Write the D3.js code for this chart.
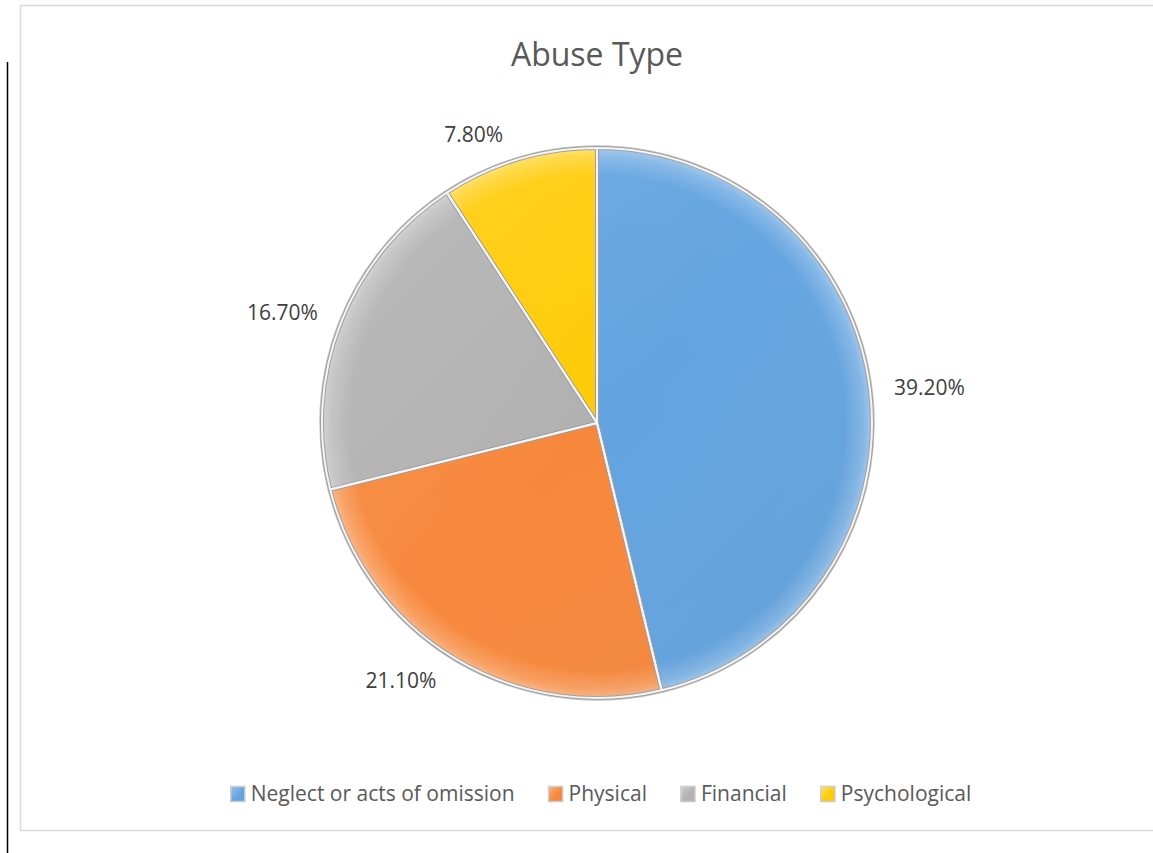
<!DOCTYPE html>
<html>
<head>
<meta charset="utf-8">
<script src="https://cdn.jsdelivr.net/npm/d3@7"></script>
<style>
  html, body { margin: 0; padding: 0; background: #fff; }
  svg { display: block; font-family: "Open Sans", sans-serif; }
</style>
</head>
<body>
<svg id="chart" width="1153" height="853"></svg>
<script>
// data
const categories = ["Neglect or acts of omission", "Physical", "Financial", "Psychological"];
const values = [39.2, 21.1, 16.7, 7.8];
const valueLabels = ["39.20%", "21.10%", "16.70%", "7.80%"];
const colors = ["#62a3e0", "#f7873a", "#b1b1b1", "#ffcb05"];

const width = 1153, height = 853;
const cx = 597, cy = 423, radius = 275;

const svg = d3.select("#chart");

// black rule at far left + light chart border
svg.append("line")
  .attr("x1", 7.5).attr("x2", 7.5).attr("y1", 62).attr("y2", height)
  .attr("stroke", "#000").attr("stroke-width", 1.5);

svg.append("rect")
  .attr("x", 20.5).attr("y", 5.5)
  .attr("width", 1160).attr("height", 825)
  .attr("fill", "#fff").attr("stroke", "#d9d9d9").attr("stroke-width", 1.5);

svg.append("text")
  .attr("x", cx).attr("y", 66)
  .attr("text-anchor", "middle")
  .attr("font-size", 32)
  .attr("fill", "#595959")
  .text("Abuse Type");

const data = categories.map((c, i) => ({ name: c, value: values[i], label: valueLabels[i], color: colors[i] }));

const pie = d3.pie().sort(null).value(d => d.value);
const arcs = pie(data);

const arc = d3.arc().innerRadius(0).outerRadius(radius);

const defs = svg.append("defs");

// bevel-ish shading: lighter rim near the edge (coords relative to pie centre)
const rim = defs.append("radialGradient")
  .attr("id", "rim").attr("gradientUnits", "userSpaceOnUse")
  .attr("cx", 0).attr("cy", 0).attr("r", radius);
rim.append("stop").attr("offset", "0%").attr("stop-color", "#fff").attr("stop-opacity", 0);
rim.append("stop").attr("offset", "90%").attr("stop-color", "#fff").attr("stop-opacity", 0.02);
rim.append("stop").attr("offset", "97%").attr("stop-color", "#fff").attr("stop-opacity", 0.22);
rim.append("stop").attr("offset", "100%").attr("stop-color", "#fff").attr("stop-opacity", 0.4);

const shade = defs.append("linearGradient")
  .attr("id", "shade").attr("gradientUnits", "userSpaceOnUse")
  .attr("x1", -radius).attr("y1", -radius)
  .attr("x2", radius).attr("y2", radius);
shade.append("stop").attr("offset", "0%").attr("stop-color", "#fff").attr("stop-opacity", 0.12);
shade.append("stop").attr("offset", "50%").attr("stop-color", "#fff").attr("stop-opacity", 0);
shade.append("stop").attr("offset", "100%").attr("stop-color", "#000").attr("stop-opacity", 0.06);

// legend marker gradient
const mark = defs.append("linearGradient")
  .attr("id", "mark").attr("x1", 0).attr("y1", 0).attr("x2", 1).attr("y2", 1);
mark.append("stop").attr("offset", "0%").attr("stop-color", "#fff").attr("stop-opacity", 0.35);
mark.append("stop").attr("offset", "60%").attr("stop-color", "#fff").attr("stop-opacity", 0);

const g = svg.append("g").attr("transform", `translate(${cx},${cy})`);

// soft outer shadow ring
g.append("circle").attr("r", radius + 1.5)
  .attr("fill", "none").attr("stroke", "#c4c4c4").attr("stroke-width", 2.5);

g.selectAll("path.slice")
  .data(arcs)
  .join("path")
    .attr("class", "slice")
    .attr("d", arc)
    .attr("fill", d => d.data.color);

g.selectAll("path.shade")
  .data(arcs)
  .join("path")
    .attr("class", "shade")
    .attr("d", arc)
    .attr("fill", "url(#shade)");

g.selectAll("path.rim")
  .data(arcs)
  .join("path")
    .attr("class", "rim")
    .attr("d", arc)
    .attr("fill", "url(#rim)");

// slice separators: light edge with grey shadow
g.selectAll("path.edge")
  .data(arcs)
  .join("path")
    .attr("class", "edge")
    .attr("d", arc)
    .attr("fill", "none")
    .attr("stroke", "#a0a0a0")
    .attr("stroke-width", 4)
    .attr("stroke-linejoin", "round");
g.selectAll("path.edge2")
  .data(arcs)
  .join("path")
    .attr("class", "edge2")
    .attr("d", arc)
    .attr("fill", "none")
    .attr("stroke", "#f4f4f4")
    .attr("stroke-width", 2)
    .attr("stroke-linejoin", "round");

// value labels outside the pie
const labelArc = d3.arc().innerRadius(radius + 12).outerRadius(radius + 12);
g.selectAll("text.lbl")
  .data(arcs)
  .join("text")
    .attr("class", "lbl")
    .attr("font-size", 21)
    .attr("fill", "#404040")
    .attr("text-anchor", "middle")
    .attr("dy", "0.35em")
    .text(d => d.data.label)
    .attr("transform", function(d) {
      const [x, y] = labelArc.centroid(d);
      const a = (d.startAngle + d.endAngle) / 2;
      const w = this.getComputedTextLength();
      const dx = Math.sign(Math.sin(a)) * (w / 2 + 12);
      const dy = -Math.cos(a) * 14;
      return `translate(${x + dx},${y + dy})`;
    });

// legend
const legend = svg.append("g").attr("font-size", 21).attr("fill", "#595959");
const items = legend.selectAll("g")
  .data(data)
  .join("g");

items.append("rect")
  .attr("width", 14).attr("height", 15)
  .attr("y", -7.5)
  .attr("fill", d => d.color)
  .attr("stroke", "#c8c8c8").attr("stroke-width", 1.5);
items.append("rect")
  .attr("width", 14).attr("height", 15)
  .attr("y", -7.5)
  .attr("fill", "url(#mark)");

items.append("text")
  .attr("x", 20)
  .attr("dy", "0.35em")
  .attr("fill", "#595959")
  .text(d => d.name);

let x = 0;
const pos = [];
items.each(function() {
  pos.push(x);
  x += this.getBBox().width + 34;
});
const total = x - 34;
items.attr("transform", (d, i) => `translate(${pos[i]},0)`);
legend.attr("transform", `translate(${601 - total / 2},794)`);
</script>
</body>
</html>
